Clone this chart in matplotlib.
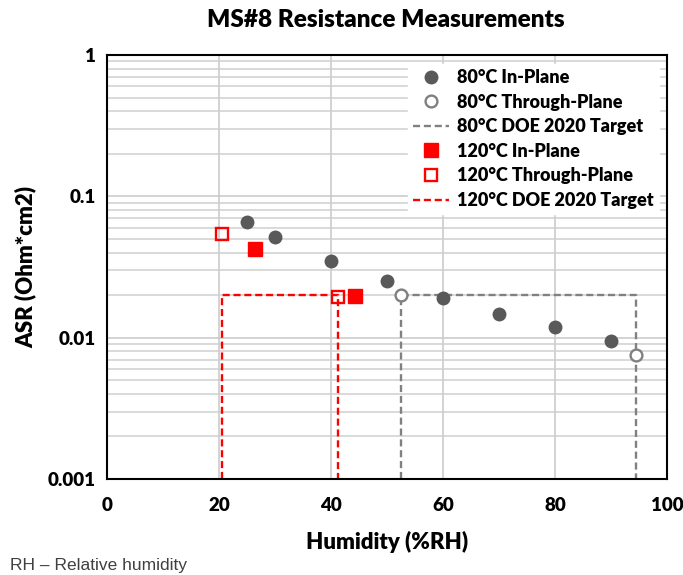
import matplotlib
matplotlib.use("Agg")
import matplotlib.pyplot as plt
from matplotlib.ticker import FixedLocator, LogLocator, NullFormatter

# Data
rh_80_inplane = [25, 30, 40, 50, 60, 70, 80, 90]
asr_80_inplane = [0.066, 0.0517, 0.0349, 0.0251, 0.019, 0.0147, 0.0119, 0.0094]
rh_80_through = [52.5, 94.5]
asr_80_through = [0.020, 0.0076]
rh_120_inplane = [26.5, 44.3]
asr_120_inplane = [0.0425, 0.0198]
rh_120_through = [20.6, 41.2]
asr_120_through = [0.054, 0.0195]
target_80_x = [52.5, 52.5, 94.5, 94.5]
target_80_y = [0.001, 0.02, 0.02, 0.001]
target_120_x = [20.6, 20.6, 41.2, 41.2]
target_120_y = [0.001, 0.02, 0.02, 0.001]
xticks = [0, 20, 40, 60, 80, 100]
yticks = [0.001, 0.01, 0.1, 1]
ytick_labels = ["0.001", "0.01", "0.1", "1"]

font = "Lato"
weight = "heavy"
fig = plt.figure(figsize=(6.83, 5.75), dpi=100)
ax = fig.add_axes([0.1567, 0.167, 0.82, 0.7373])

ax.set_yscale("log")
ax.set_xlim(0, 100)
ax.set_ylim(0.001, 1)

gray = "#595959"
dash = (0, (3, 1.6))
h3, = ax.plot(target_80_x, target_80_y, linestyle=dash, color="#808080", lw=1.7, zorder=2)
h6, = ax.plot(target_120_x, target_120_y, linestyle=dash, color="#ff0000", lw=1.7, zorder=2)
h1, = ax.plot(rh_80_inplane, asr_80_inplane, "o", color=gray, ms=9, mec=gray, zorder=3)
h2, = ax.plot(rh_80_through, asr_80_through, "o", mfc="white", mec="#808080", mew=1.7,
              ms=8.5, zorder=3)
h4, = ax.plot(rh_120_inplane, asr_120_inplane, "s", color="#ff0000", ms=9.5, zorder=3)
h5, = ax.plot(rh_120_through, asr_120_through, "s", mfc="none", mec="#ff0000", mew=1.7,
              ms=9, zorder=3)

ax.xaxis.set_major_locator(FixedLocator(xticks))
ax.yaxis.set_major_locator(FixedLocator(yticks))
ax.set_yticklabels(ytick_labels)
ax.yaxis.set_minor_locator(LogLocator(base=10, subs=range(2, 10)))
ax.yaxis.set_minor_formatter(NullFormatter())
ax.grid(True, which="major", color="#c8c8c8", lw=1.1, zorder=0)
ax.grid(True, which="minor", axis="y", color="#d0d0d0", lw=1.1, zorder=0)
ax.set_axisbelow(True)
ax.tick_params(which="both", length=0)
ax.tick_params(axis="x", pad=13)
ax.tick_params(axis="y", pad=8)
for lab in ax.get_xticklabels() + ax.get_yticklabels():
    lab.set_fontfamily(font)
    lab.set_fontweight(weight)
    lab.set_fontsize(13.5)
for s in ax.spines.values():
    s.set_color("black")
    s.set_linewidth(1.5)

ax.set_xlabel("Humidity (%RH)", fontfamily=font, fontweight=weight, fontsize=16, labelpad=12)
ax.set_ylabel("ASR (Ohm*cm2)", fontfamily=font, fontweight=weight, fontsize=16, labelpad=8)
fig.text(0.5655, 0.965, "MS#8 Resistance Measurements", ha="center", va="center",
         fontfamily=font, fontweight=weight, fontsize=17.5)
fig.text(0.015, 0.017, "RH – Relative humidity", ha="left", va="center",
         fontfamily="Liberation Sans", fontsize=12.5, color="#404040")

leg = ax.legend([h1, h2, h3, h4, h5, h6],
                ["80°C In-Plane", "80°C Through-Plane", "80°C DOE 2020 Target",
                 "120°C In-Plane", "120°C Through-Plane", "120°C DOE 2020 Target"],
                loc="upper right", bbox_to_anchor=(0.985, 0.98), frameon=True,
                prop={"family": font, "weight": weight, "size": 13},
                handlelength=2.0, handletextpad=0.4, labelspacing=0.42,
                borderpad=0.3, borderaxespad=0)
leg.get_frame().set_edgecolor("white")
leg.get_frame().set_facecolor("white")
leg.get_frame().set_alpha(1)
leg.get_frame().set_boxstyle("square", pad=0)

fig.savefig("out.png", dpi=100)
